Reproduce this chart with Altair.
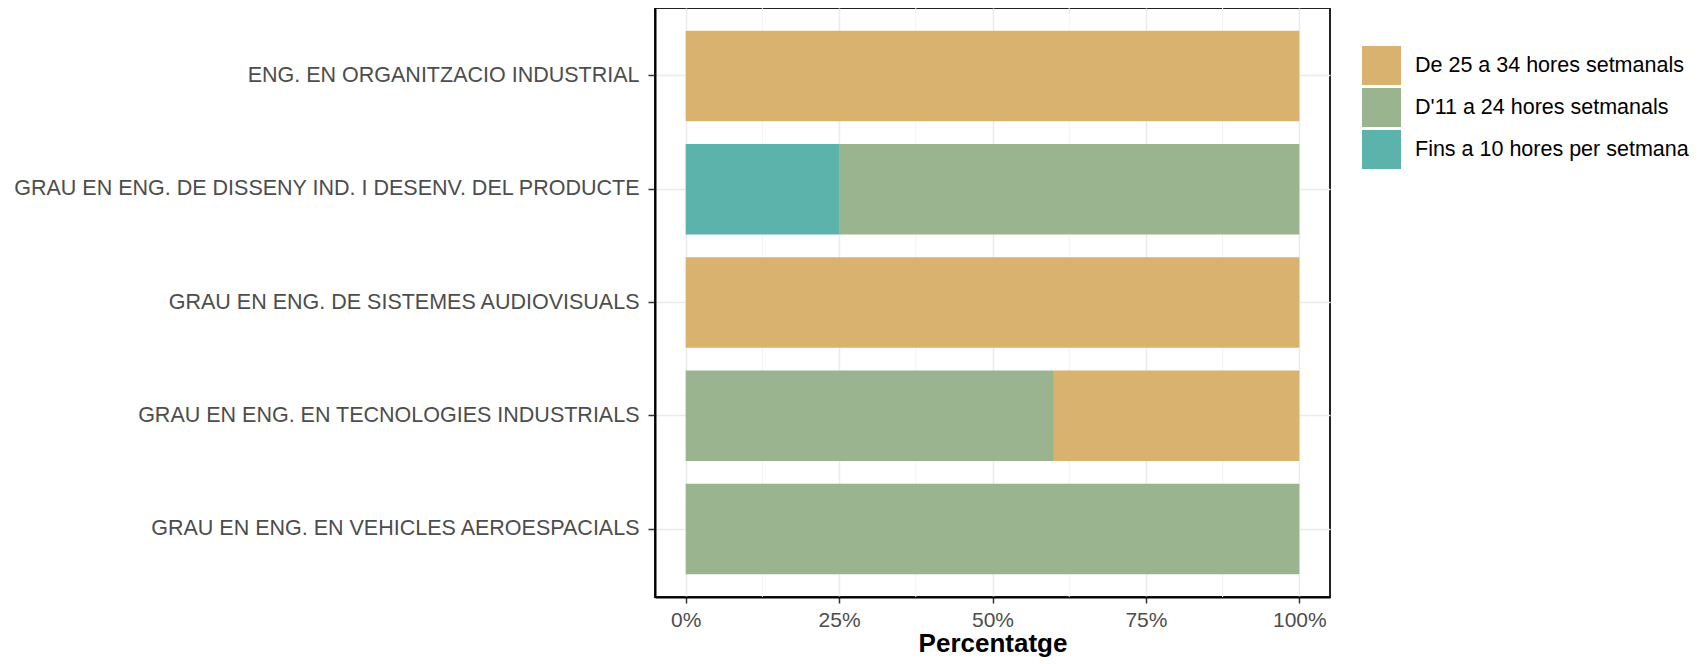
import altair as alt
import pandas as pd

programs = [
    "ENG. EN ORGANITZACIO INDUSTRIAL",
    "GRAU EN ENG. DE DISSENY IND. I DESENV. DEL PRODUCTE",
    "GRAU EN ENG. DE SISTEMES AUDIOVISUALS",
    "GRAU EN ENG. EN TECNOLOGIES INDUSTRIALS",
    "GRAU EN ENG. EN VEHICLES AEROESPACIALS",
]
categories = [
    "De 25 a 34 hores setmanals",
    "D'11 a 24 hores setmanals",
    "Fins a 10 hores per setmana",
]
colors = ["#D8B26E", "#9AB48F", "#5BB3AC"]
stack_rank = [2, 1, 0]

de25 = [100, 0, 100, 40, 0]
d11 = [0, 75, 0, 60, 100]
fins = [0, 25, 0, 0, 0]

major_ticks = [0, 25, 50, 75, 100]
minor_ticks = [12.5, 37.5, 62.5, 87.5]

rows = []
for series, vals in zip(categories, [de25, d11, fins]):
    for p, v in zip(programs, vals):
        if v > 0:
            rows.append({"program": p, "cat": series, "value": v,
                         "rank": stack_rank[categories.index(series)]})
df = pd.DataFrame(rows)
minor_df = pd.DataFrame({"x": minor_ticks})

xscale = alt.Scale(domain=[-5, 105], nice=False, zero=False)
FONT = "Liberation Sans"

minor = alt.Chart(minor_df).mark_rule(color="#F3F3F3", strokeWidth=1).encode(
    x=alt.X("x:Q", scale=xscale)
)

bars = alt.Chart(df).mark_bar().encode(
    y=alt.Y("program:N", sort=programs, title="",
            scale=alt.Scale(paddingInner=0.2, paddingOuter=0.2),
            axis=alt.Axis(bandPosition=0.5, labelFontSize=21.5, labelColor="#4D4D4D",
                          labelFont=FONT, labelPadding=9, labelLimit=1000,
                          tickSize=7, tickColor="#333333", tickWidth=1.5,
                          domainColor="#000000", domainWidth=2,
                          grid=True, gridColor="#EBEBEB", gridWidth=1.5)),
    x=alt.X("value:Q", stack="zero", scale=xscale, title="Percentatge",
            axis=alt.Axis(values=major_ticks, labelExpr="datum.value + '%'",
                          labelFontSize=21, labelColor="#4D4D4D", labelFont=FONT,
                          labelPadding=6, tickSize=6, tickColor="#333333", tickWidth=1.5,
                          domainColor="#000000", domainWidth=2,
                          grid=True, gridColor="#EBEBEB", gridWidth=1.5,
                          titleFontSize=26, titleFont=FONT, titleFontWeight="bold",
                          titleColor="#000000", titlePadding=0)),
    color=alt.Color("cat:N", scale=alt.Scale(domain=categories, range=colors),
                    legend=alt.Legend(title=None, orient="none", legendX=707, legendY=38,
                                      symbolType="square", symbolSize=1521,
                                      symbolStrokeWidth=0, symbolOpacity=1,
                                      labelFontSize=21.5, labelFont=FONT,
                                      labelColor="#000000", labelOffset=14, rowPadding=3,
                                      labelLimit=400)),
    order=alt.Order("rank:Q"),
)

chart = alt.layer(minor, bars).properties(
    width=675, height=589,
    autosize=alt.AutoSizeParams(type="none"),
    padding={"left": 647, "top": 0, "right": 360, "bottom": 60},
).configure(background="white").configure_view(stroke="#222222", strokeWidth=2)

chart.save("out.html", embed_options={"renderer": "svg", "actions": False})
